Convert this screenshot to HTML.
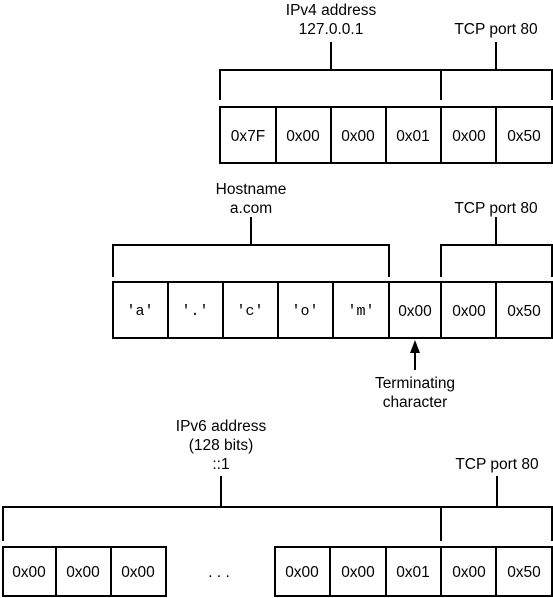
<!DOCTYPE html>
<html><head><meta charset="utf-8"><style>
html,body{margin:0;padding:0;background:#fff;}
svg{display:block;}
text{font-family:"Liberation Sans",sans-serif;font-size:15.5px;fill:#000;}
.m{font-family:"Liberation Mono",monospace;font-size:15px;}
</style></head><body>
<svg width="553" height="598" viewBox="0 0 553 598" stroke="#000" stroke-width="2" fill="none">
<g>
<text x="331" y="15" text-anchor="middle" stroke="none">IPv4 address</text>
<text x="331" y="34" text-anchor="middle" stroke="none">127.0.0.1</text>
<text x="496" y="34" text-anchor="middle" stroke="none">TCP port 80</text>
<path d="M331 42V70M496 42V70M220 100V70H552V100M441 70V100"/>
<rect x="220" y="107" width="332" height="56"/>
<path d="M276 107V163M331 107V163M386 107V163M441 107V163M496 107V163"/>
<g stroke="none" text-anchor="middle">
<text x="248" y="141">0x7F</text><text x="303" y="141">0x00</text><text x="358" y="141">0x00</text><text x="413" y="141">0x01</text><text x="469" y="141">0x00</text><text x="524" y="141">0x50</text>
</g>
</g>
<g>
<text x="251" y="194" text-anchor="middle" stroke="none">Hostname</text>
<text x="251" y="213" text-anchor="middle" stroke="none">a.com</text>
<text x="496" y="213" text-anchor="middle" stroke="none">TCP port 80</text>
<path d="M251 217V245M113 277V245H389V277M496 217V245M441 277V245H552V277"/>
<rect x="113" y="282" width="439" height="56"/>
<path d="M168 282V338M223 282V338M278 282V338M333 282V338M389 282V338M441 282V338M496 282V338"/>
<g stroke="none" text-anchor="middle">
<text class="m" x="140" y="315">'a'</text><text class="m" x="195" y="315">'.'</text><text class="m" x="250" y="315">'c'</text><text class="m" x="305" y="315">'o'</text><text class="m" x="361" y="315">'m'</text>
<text x="415" y="316">0x00</text><text x="469" y="316">0x00</text><text x="524" y="316">0x50</text>
</g>
<path d="M415 352V370"/>
<polygon points="415,340 410,353 420,353" fill="#000" stroke="none"/>
<text x="415" y="388" text-anchor="middle" stroke="none">Terminating</text>
<text x="415" y="407" text-anchor="middle" stroke="none">character</text>
</g>
<g>
<text x="221" y="431" text-anchor="middle" stroke="none">IPv6 address</text>
<text x="221" y="450" text-anchor="middle" stroke="none">(128 bits)</text>
<text x="221" y="469" text-anchor="middle" stroke="none">::1</text>
<text x="497" y="469" text-anchor="middle" stroke="none">TCP port 80</text>
<path d="M221 476V507M3 541V507H552V541M497 476V507M441 507V541"/>
<rect x="3" y="547" width="163" height="49"/>
<path d="M56 547V596M111 547V596"/>
<rect x="275" y="547" width="277" height="49"/>
<path d="M330 547V596M386 547V596M441 547V596M496 547V596"/>
<g stroke="none" text-anchor="middle">
<text x="29" y="577">0x00</text><text x="83" y="577">0x00</text><text x="138" y="577">0x00</text>
<text x="219" y="577">. . .</text>
<text x="302" y="577">0x00</text><text x="358" y="577">0x00</text><text x="413" y="577">0x01</text><text x="469" y="577">0x00</text><text x="524" y="577">0x50</text>
</g>
</g>
</svg>
</body></html>
